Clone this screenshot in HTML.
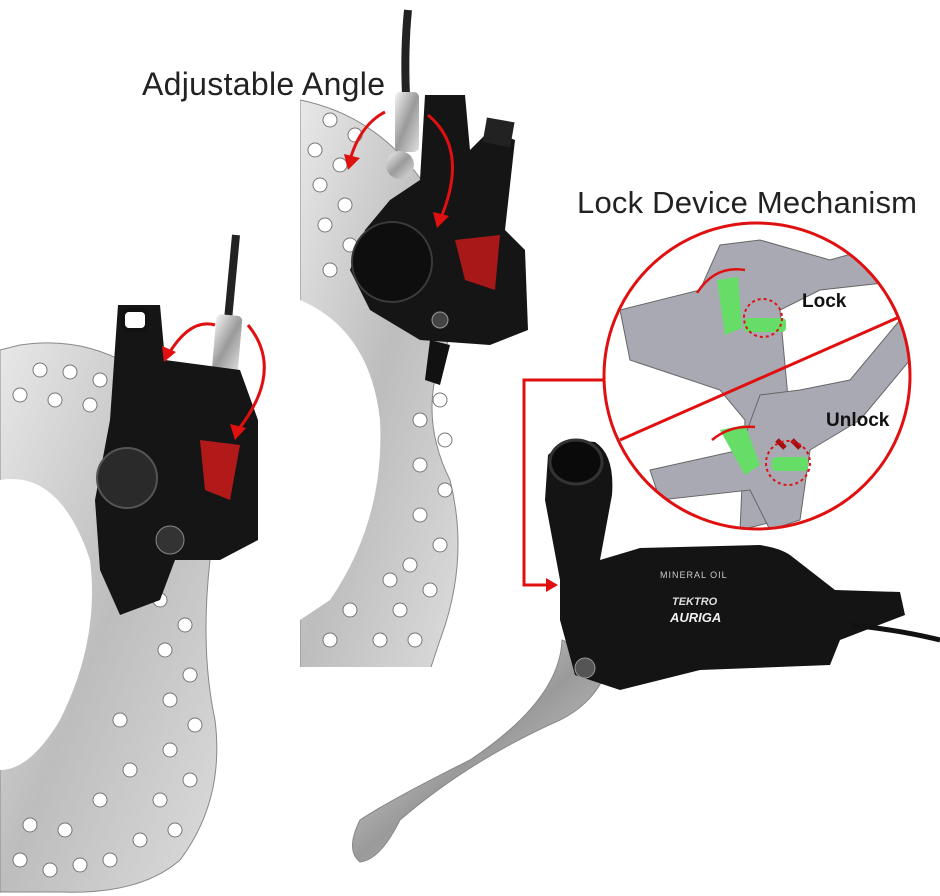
<!DOCTYPE html>
<html><head><meta charset="utf-8"><style>
html,body{margin:0;padding:0;background:#fff;width:940px;height:896px;overflow:hidden}
svg{display:block}
text{font-family:"Liberation Sans",sans-serif}
</style></head><body>
<svg width="940" height="896" viewBox="0 0 940 896" xmlns="http://www.w3.org/2000/svg">
<defs>
<linearGradient id="rot" x1="0" y1="0" x2="1" y2="1"><stop offset="0" stop-color="#e8e8e8"/><stop offset="0.5" stop-color="#bdbdbd"/><stop offset="1" stop-color="#dcdcdc"/></linearGradient>
<linearGradient id="sil" x1="0" y1="0" x2="1" y2="1"><stop offset="0" stop-color="#f4f4f4"/><stop offset="0.5" stop-color="#9a9a9a"/><stop offset="1" stop-color="#e0e0e0"/></linearGradient>
<clipPath id="c1"><rect x="0" y="0" width="260" height="896"/></clipPath>
<clipPath id="c2"><rect x="300" y="95" width="170" height="572"/></clipPath>
<clipPath id="cc"><circle cx="757" cy="376" r="153"/></clipPath>
</defs>
<!-- left rotor -->
<g clip-path="url(#c1)">
<path d="M20 345 Q120 330 190 420 Q225 470 210 560 Q200 650 215 720 Q225 800 180 860 Q140 895 60 892 L0 892 L0 350 Z" fill="url(#rot)" stroke="#888"/>
<path d="M0 480 Q60 470 90 560 Q100 640 60 720 Q30 770 0 770 Z" fill="#fff"/>
<g fill="#fff" stroke="#777">
<circle cx="40" cy="370" r="7"/><circle cx="70" cy="372" r="7"/><circle cx="100" cy="380" r="7"/><circle cx="20" cy="395" r="7"/><circle cx="55" cy="400" r="7"/><circle cx="90" cy="405" r="7"/><circle cx="120" cy="410" r="7"/>
<circle cx="160" cy="600" r="7"/><circle cx="185" cy="625" r="7"/><circle cx="165" cy="650" r="7"/><circle cx="190" cy="675" r="7"/><circle cx="170" cy="700" r="7"/><circle cx="195" cy="725" r="7"/><circle cx="170" cy="750" r="7"/><circle cx="190" cy="780" r="7"/><circle cx="160" cy="800" r="7"/><circle cx="175" cy="830" r="7"/><circle cx="140" cy="840" r="7"/><circle cx="110" cy="860" r="7"/><circle cx="80" cy="865" r="7"/><circle cx="50" cy="870" r="7"/><circle cx="20" cy="860" r="7"/><circle cx="130" cy="770" r="7"/><circle cx="120" cy="720" r="7"/><circle cx="100" cy="800" r="7"/><circle cx="65" cy="830" r="7"/><circle cx="30" cy="825" r="7"/>
</g>
</g>
<!-- left hose -->
<path d="M236 235 L228 320" stroke="#222" stroke-width="8" fill="none"/>
<rect x="214" y="315" width="26" height="60" rx="5" fill="url(#sil)" transform="rotate(5 227 345)"/>
<circle cx="232" cy="390" r="14" fill="url(#sil)"/>
<!-- left caliper -->
<path d="M118 305 L160 305 L165 360 L240 370 L258 420 L258 540 L220 560 L175 560 L160 600 L120 615 L100 570 L95 500 L110 420 Z" fill="#151515"/>
<rect x="123" y="310" width="24" height="20" rx="6" fill="#fff" stroke="#111" stroke-width="4"/>
<circle cx="127" cy="478" r="30" fill="#2a2a2a" stroke="#555" stroke-width="2"/>
<circle cx="170" cy="540" r="14" fill="#333" stroke="#888"/>
<path d="M200 440 L240 445 L230 500 L205 490 Z" fill="#b21a1a"/>
<!-- red arrows left -->
<path d="M168 355 Q190 318 215 325" stroke="#e01010" stroke-width="3" fill="none"/>
<path d="M248 325 Q285 370 238 430" stroke="#e01010" stroke-width="3" fill="none"/>
<polygon points="164,362 162,346 176,352" fill="#e01010"/>
<polygon points="235,440 230,424 246,428" fill="#e01010"/>
<!-- middle rotor -->
<g clip-path="url(#c2)">
<path d="M300 100 Q400 120 450 230 Q470 300 440 360 Q420 420 450 480 Q470 560 440 640 L430 670 L300 670 Z" fill="url(#rot)" stroke="#888"/>
<g fill="#fff" stroke="#777">
<circle cx="330" cy="120" r="7"/><circle cx="355" cy="135" r="7"/><circle cx="315" cy="150" r="7"/><circle cx="340" cy="165" r="7"/><circle cx="320" cy="185" r="7"/><circle cx="345" cy="205" r="7"/><circle cx="325" cy="225" r="7"/><circle cx="350" cy="245" r="7"/><circle cx="330" cy="270" r="7"/>
<circle cx="440" cy="400" r="7"/><circle cx="420" cy="420" r="7"/><circle cx="445" cy="440" r="7"/><circle cx="420" cy="465" r="7"/><circle cx="445" cy="490" r="7"/><circle cx="420" cy="515" r="7"/><circle cx="440" cy="545" r="7"/><circle cx="410" cy="565" r="7"/><circle cx="430" cy="590" r="7"/><circle cx="400" cy="610" r="7"/><circle cx="415" cy="640" r="7"/><circle cx="380" cy="640" r="7"/><circle cx="350" cy="610" r="7"/><circle cx="330" cy="640" r="7"/><circle cx="390" cy="580" r="7"/>
</g>
<path d="M300 300 Q370 330 380 420 Q385 520 330 600 L300 620 Z" fill="#fff"/>
</g>
<!-- middle hose & caliper -->
<path d="M408 10 Q404 50 406 95" stroke="#222" stroke-width="8" fill="none"/>
<rect x="395" y="92" width="24" height="60" rx="5" fill="url(#sil)"/>
<circle cx="400" cy="165" r="14" fill="url(#sil)"/>
<path d="M425 95 L465 95 L470 150 L490 130 L515 140 L505 230 L525 250 L528 330 L490 345 L420 340 L370 310 L350 270 L365 230 L390 200 L420 180 Z" fill="#151515"/>
<ellipse cx="392" cy="262" rx="40" ry="40" fill="#0e0e0e" stroke="#3a3a3a" stroke-width="2"/>
<rect x="485" y="120" width="28" height="25" fill="#222" transform="rotate(10 500 130)"/>
<path d="M455 240 L500 235 L495 290 L465 280 Z" fill="#a81818"/>
<circle cx="440" cy="320" r="8" fill="#444" stroke="#999"/>
<path d="M430 340 L450 345 L440 385 L425 380 Z" fill="#111"/>
<!-- red arrows middle -->
<path d="M350 160 Q360 125 385 112" stroke="#e01010" stroke-width="3" fill="none"/>
<path d="M428 115 Q470 150 440 220" stroke="#e01010" stroke-width="3" fill="none"/>
<polygon points="348,170 344,154 360,158" fill="#e01010"/>
<polygon points="437,228 433,212 449,216" fill="#e01010"/>
<text x="142" y="95" font-size="32" fill="#222" textLength="243">Adjustable Angle</text>
<text x="577" y="213" font-size="31" fill="#222" textLength="340">Lock Device Mechanism</text>
<!-- lever -->
<path d="M562 640 Q560 700 470 760 Q390 800 360 820 Q345 850 360 862 Q380 860 400 820 Q470 760 560 720 Q600 700 610 660 Z" fill="url(#sil)" stroke="#888"/>
<path d="M548 455 Q565 438 595 442 Q615 455 612 495 L600 560 L640 548 L760 545 Q780 548 790 555 L835 590 L900 592 L905 615 L840 640 L830 665 L700 670 L620 690 L575 675 L560 620 L560 580 L545 500 Z" fill="#141414"/>
<ellipse cx="576" cy="462" rx="26" ry="22" fill="#0a0a0a" stroke="#333" stroke-width="3"/>
<circle cx="585" cy="668" r="10" fill="#555" stroke="#999"/>
<text x="660" y="578" font-size="9" fill="#ccc" letter-spacing="1">MINERAL OIL</text>
<text x="672" y="605" font-size="11" font-style="italic" font-weight="bold" fill="#ddd">TEKTRO</text>
<text x="670" y="622" font-size="13" font-style="italic" font-weight="bold" fill="#eee">AURIGA</text>
<path d="M850 625 Q900 630 940 640" stroke="#111" stroke-width="5" fill="none"/>
<!-- connector -->
<polyline points="608,380 524,380 524,585 552,585" stroke="#e01010" stroke-width="3" fill="none"/>
<polygon points="558,585 546,578 546,592" fill="#e01010"/>
<!-- inset circle -->
<circle cx="757" cy="376" r="153" fill="#fff"/>
<g clip-path="url(#cc)">
<path d="M620 310 L700 290 L720 245 L760 240 L830 260 L900 240 L910 280 L820 290 L780 310 L790 420 L780 520 L740 530 L745 420 L720 390 L630 360 Z" fill="#a9a9b4" stroke="#666"/>
<path d="M650 470 L740 450 L760 395 L800 390 L850 380 L900 320 L910 360 L860 420 L810 450 L800 520 L770 530 L750 490 L660 500 Z" fill="#a9a9b4" stroke="#666"/>
<path d="M717 280 L738 277 L742 328 L725 335 Z" fill="#66dd66"/>
<rect x="744" y="318" width="42" height="14" rx="4" fill="#66dd66"/>
<path d="M720 430 L745 425 L760 465 L745 475 Z" fill="#66dd66"/>
<rect x="772" y="457" width="36" height="14" rx="4" fill="#66dd66"/>
<path d="M777 440 L785 448 M792 440 L800 448" stroke="#a01010" stroke-width="5"/>
</g>
<line x1="620" y1="440" x2="897" y2="318" stroke="#e01010" stroke-width="3"/>
<circle cx="757" cy="376" r="153" fill="none" stroke="#e01010" stroke-width="3"/>
<circle cx="763" cy="318" r="19" fill="none" stroke="#e01010" stroke-width="2" stroke-dasharray="3 3"/>
<circle cx="788" cy="463" r="22" fill="none" stroke="#e01010" stroke-width="2" stroke-dasharray="3 3"/>
<path d="M697 293 Q715 265 745 270" stroke="#e01010" stroke-width="2.5" fill="none"/>
<path d="M755 427 Q730 425 712 440" stroke="#e01010" stroke-width="2.5" fill="none"/>
<text x="802" y="307" font-size="19" font-weight="bold" fill="#111">Lock</text>
<text x="826" y="426" font-size="19" font-weight="bold" fill="#111">Unlock</text>
</svg>
</body></html>
